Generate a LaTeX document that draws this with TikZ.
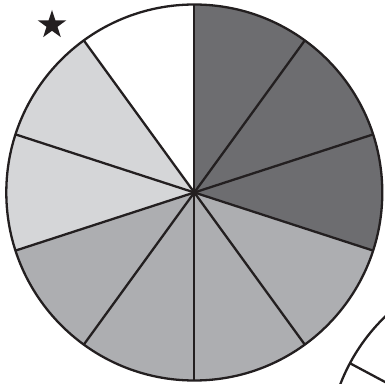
\documentclass[tikz,border=0pt]{standalone}
\definecolor{inkc}{RGB}{35,31,32}
\definecolor{darkc}{RGB}{109,109,112}
\definecolor{midc}{RGB}{173,174,177}
\definecolor{lightc}{RGB}{213,214,216}
\begin{document}
\begin{tikzpicture}[x=1pt,y=1pt,
  wheelline/.style={line width=2.3pt,draw=inkc,line join=round},
  darkfill/.style={fill=darkc},
  midfill/.style={fill=midc},
  lightfill/.style={fill=lightc}]
\useasboundingbox (0,0) rectangle (385,383);
\clip (0,0) rectangle (385,383);
\coordinate (c) at (194.3,190.5);
\def\R{188}
% sectors
\fill[darkfill] (c) -- ++(90:\R) arc[start angle=90,end angle=-18,radius=\R] -- cycle;
\fill[midfill] (c) -- ++(-18:\R) arc[start angle=-18,end angle=-162,radius=\R] -- cycle;
\fill[lightfill] (c) -- ++(198:\R) arc[start angle=198,end angle=126,radius=\R] -- cycle;
\fill[white] (c) -- ++(126:\R) arc[start angle=126,end angle=90,radius=\R] -- cycle;
% spokes
\foreach \a in {90,54,18,-18,-54,-90,-126,-162,162,126}
  \draw[wheelline] (c) -- ++(\a:\R);
\draw[wheelline] (c) circle[radius=\R];
% second wheel, partly visible
\coordinate (c2) at (515.8,-68.8);
\fill[white] (c2) circle[radius=\R];
\draw[wheelline] (c2) circle[radius=\R];
\draw[wheelline] (c2) -- ++(151.9:\R);
% star
\begin{scope}[shift={(52,358)}]
\fill[inkc] (90:15) -- (126:5.8) -- (162:15) -- (198:5.8) -- (234:15) -- (270:5.8)
  -- (306:15) -- (342:5.8) -- (18:15) -- (54:5.8) -- cycle;
\end{scope}
\end{tikzpicture}
\end{document}
